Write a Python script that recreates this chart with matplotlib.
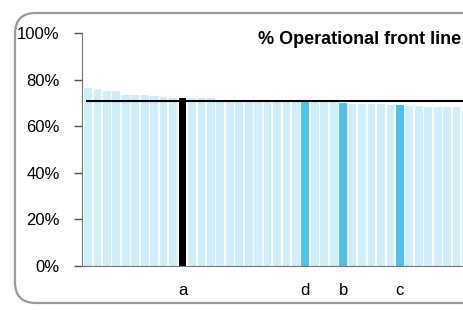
import numpy as np
import matplotlib.pyplot as plt
from matplotlib.patches import FancyBboxPatch

plt.rcParams['font.family'] = ['Liberation Sans', 'DejaVu Sans']

# values (%), one bar per unit
values = [76.4, 75.8, 75.0, 75.0, 73.4, 73.4, 73.4, 73.0, 72.5, 72.1,
          72.1, 72.1, 71.9, 71.9, 71.4, 71.3, 71.3, 71.2, 71.2, 71.1,
          70.7, 70.7, 70.7, 70.4, 70.6, 70.4, 70.2, 70.0, 69.7, 69.7,
          69.7, 69.5, 69.1, 69.1, 68.8, 68.8, 68.2, 68.1, 68.1, 68.1,
          66.4]
highlight = {10: 'a', 23: 'd', 27: 'b', 33: 'c'}
average = 71.0
yticks = [0, 20, 40, 60, 80, 100]
title = "% Operational front line"

light = '#cdeefa'
mid = '#4cc3ec'

fig = plt.figure(figsize=(4.63, 3.10), dpi=100)
W, H = 463, 310

# rounded frame round the chart (right side runs off the picture)
frame = FancyBboxPatch((15 / W, 7 / H), 470 / W, 290 / H,
                       boxstyle="round,pad=0,rounding_size=0.045",
                       transform=fig.transFigure, fc='none', ec='#9a9a9a',
                       lw=1.6, mutation_aspect=W / H, zorder=0)
fig.patches.append(frame)

ax = fig.add_axes([82 / W, 44 / H, 381 / W, 233 / H])
ax.patch.set_alpha(0)

x = np.arange(len(values))
colors = []
for i in x:
    if i == 10:
        colors.append('black')
    elif i in highlight:
        colors.append(mid)
    else:
        colors.append(light)
ax.bar(x, values, width=0.82, color=colors, zorder=2)
ax.hlines(average, -0.2, 60, color='black', lw=1.5, zorder=3)

pitch = 9.45
ax.set_xlim(-6 / pitch, -6 / pitch + 381 / pitch)
ax.set_ylim(0, 100)
ax.set_yticks(yticks)
ax.set_yticklabels([f"{v}%" for v in yticks])
ax.tick_params(axis='y', length=6, width=1, color='#555555', pad=10, labelsize=12)
ax.set_xticks([])

for s in ['top', 'right']:
    ax.spines[s].set_visible(False)
ax.spines['left'].set_color('#777777')
ax.spines['bottom'].set_color('#777777')

for i, lab in highlight.items():
    ax.text(i, -12.4, lab, ha='center', va='baseline', fontsize=12)

fig.text(461 / W, 1 - 44 / H, title, ha='right', va='baseline',
         fontsize=13, fontweight='bold')

fig.savefig('out.png', dpi=100)
